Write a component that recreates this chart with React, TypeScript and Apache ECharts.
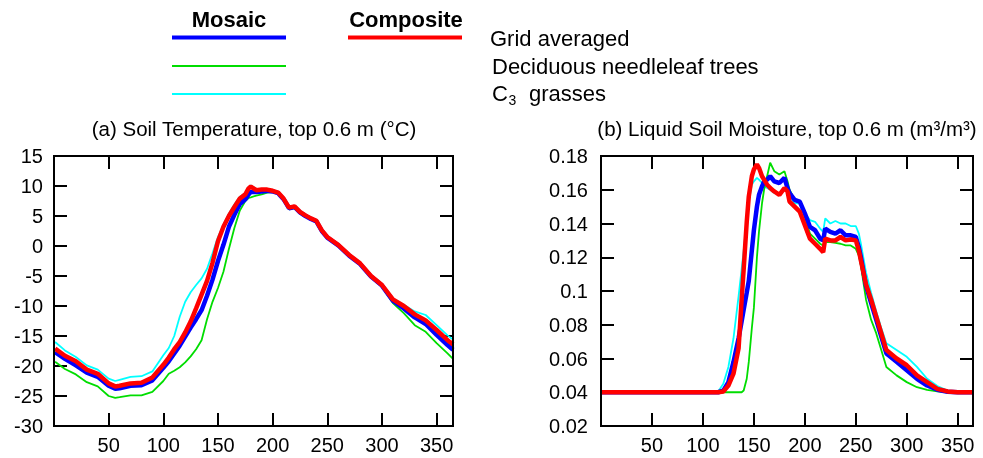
import React, { useEffect, useRef } from "react";
import * as echarts from "echarts";

// ---------- data ----------
const dayTicks = [50, 100, 150, 200, 250, 300, 350];
const tempTicks = [-30, -25, -20, -15, -10, -5, 0, 5, 10, 15];
const moistTicks = [0.02, 0.04, 0.06, 0.08, 0.1, 0.12, 0.14, 0.16, 0.18];

const tempDays = [1, 10, 20, 30, 40, 50, 56, 60, 70, 80, 90, 100, 105, 110, 115, 120, 125, 130, 135, 140, 145, 150, 155, 160, 165, 170, 175, 178, 180, 185, 190, 195, 200, 205, 210, 215, 220, 225, 230, 235, 240, 245, 250, 260, 270, 280, 290, 300, 310, 320, 330, 340, 350, 360, 365];
const tempCompositeGrid = [-17.1, -18.3, -19.2, -20.6, -21.3, -22.9, -23.4, -23.3, -22.9, -22.8, -21.9, -19.8, -18.6, -17.2, -16, -14.4, -12.6, -10.4, -8.1, -5.8, -2.8, 0.8, 3.2, 5, 6.5, 7.9, 8.6, 9.6, 9.9, 9.3, 9.4, 9.4, 9.2, 8.9, 7.9, 6.4, 6.6, 5.7, 5.1, 4.6, 4.2, 2.6, 1.5, 0.2, -1.5, -2.9, -5, -6.5, -8.9, -10, -11.4, -12.4, -14, -15.7, -16.4];
const tempMosaicGrid = [-17.7, -18.8, -19.9, -21.1, -21.8, -23.3, -23.8, -23.7, -23.3, -23.2, -22.4, -20.3, -19.2, -17.9, -16.6, -15.1, -13.6, -12.2, -10.7, -8.3, -5.6, -2.5, 0.2, 3.2, 5.2, 7, 7.8, 8.6, 9, 9, 9.1, 9.2, 9.1, 8.8, 7.8, 6.3, 6.5, 5.6, 5, 4.5, 4.1, 2.5, 1.4, 0.1, -1.6, -3, -5.1, -6.6, -9.1, -10.4, -11.9, -13, -14.8, -16.5, -17.3];
const tempDeciduous = [-19.3, -20.5, -21.4, -22.7, -23.4, -25, -25.3, -25.2, -24.9, -24.9, -24.3, -22.5, -21.3, -20.8, -20.2, -19.4, -18.4, -17.2, -15.7, -12.2, -9.3, -7, -4.3, -0.5, 3, 5.9, 7.5, 8, 8.1, 8.4, 8.6, 8.9, 9, 8.7, 7.7, 6.1, 6.3, 5.4, 4.9, 4.4, 4, 2.4, 1.3, 0, -1.7, -3.1, -5.2, -6.8, -9.5, -11.2, -13.2, -14.3, -16.2, -17.9, -18.8];
const tempC3Grasses = [-16, -17.4, -18.5, -19.9, -20.6, -22.1, -22.5, -22.3, -21.8, -21.7, -20.9, -18.2, -17, -15, -11.8, -9.3, -7.7, -6.5, -5.4, -3.8, -1.2, 1.5, 3.5, 5.4, 6.9, 8.2, 8.8, 9.8, 10.1, 9.5, 9.5, 9.5, 9.3, 9, 8, 6.5, 6.7, 5.8, 5.2, 4.7, 4.3, 2.7, 1.6, 0.3, -1.4, -2.8, -4.9, -6.4, -8.8, -9.8, -10.9, -11.5, -13.2, -14.9, -15.6];

const moistDays = [1, 40, 80, 110, 115, 120, 125, 130, 135, 138, 140, 143, 145, 148, 150, 153, 155, 158, 160, 163, 166, 170, 175, 180, 183, 185, 190, 195, 200, 205, 210, 215, 218, 220, 225, 230, 235, 240, 245, 250, 253, 255, 260, 265, 270, 275, 280, 290, 300, 310, 320, 330, 340, 350, 365];
const moistCompositeGrid = [0.04, 0.04, 0.04, 0.04, 0.04, 0.0405, 0.044, 0.051, 0.066, 0.095, 0.113, 0.141, 0.156, 0.168, 0.172, 0.175, 0.173, 0.168, 0.166, 0.163, 0.161, 0.159, 0.157, 0.161, 0.159, 0.153, 0.15, 0.147, 0.139, 0.131, 0.128, 0.125, 0.123, 0.131, 0.13, 0.13, 0.132, 0.13, 0.1305, 0.13, 0.124, 0.118, 0.104, 0.095, 0.085, 0.075, 0.065, 0.06, 0.056, 0.05, 0.046, 0.042, 0.0405, 0.04, 0.04];
const moistMosaicGrid = [0.04, 0.04, 0.04, 0.04, 0.04, 0.041, 0.046, 0.058, 0.072, 0.082, 0.089, 0.099, 0.106, 0.124, 0.136, 0.15, 0.157, 0.162, 0.165, 0.166, 0.168, 0.165, 0.164, 0.167, 0.161, 0.158, 0.154, 0.153, 0.146, 0.138, 0.136, 0.131, 0.13, 0.137, 0.135, 0.134, 0.136, 0.133, 0.133, 0.132, 0.126, 0.12, 0.103, 0.093, 0.083, 0.073, 0.063, 0.058, 0.053, 0.048, 0.044, 0.0415, 0.0403, 0.04, 0.04];
const moistDeciduous = [0.04, 0.04, 0.04, 0.04, 0.04, 0.04, 0.04, 0.04, 0.04, 0.04, 0.041, 0.048, 0.058, 0.078, 0.09, 0.12, 0.135, 0.152, 0.16, 0.168, 0.176, 0.171, 0.169, 0.171, 0.165, 0.16, 0.154, 0.152, 0.144, 0.134, 0.131, 0.128, 0.127, 0.129, 0.129, 0.1285, 0.128, 0.127, 0.127, 0.125, 0.121, 0.115, 0.095, 0.083, 0.075, 0.065, 0.055, 0.05, 0.046, 0.043, 0.0414, 0.0405, 0.04, 0.04, 0.04];
const moistC3Grasses = [0.04, 0.04, 0.04, 0.04, 0.0405, 0.045, 0.055, 0.072, 0.097, 0.113, 0.124, 0.142, 0.153, 0.163, 0.165, 0.167, 0.166, 0.164, 0.162, 0.161, 0.16, 0.158, 0.158, 0.16, 0.159, 0.156, 0.152, 0.152, 0.146, 0.142, 0.141, 0.137, 0.135, 0.143, 0.14, 0.1415, 0.14, 0.14, 0.1385, 0.1385, 0.134, 0.128, 0.111, 0.099, 0.088, 0.078, 0.069, 0.065, 0.061, 0.055, 0.048, 0.0437, 0.041, 0.04, 0.04];

// ---------- styles ----------
const FONT = '"Liberation Sans", Arial, Helvetica, sans-serif';
const BLUE = "#0000ff";
const RED = "#ff0000";
const GREEN = "#00dd00";
const CYAN = "#00ffff";

const pair = (xs: number[], ys: number[]) => xs.map((x, i) => [x, ys[i]]);

const noLine = () => ({ show: false, onZero: false });
const ticksIn = () => ({ show: true, inside: true, length: 13, lineStyle: { color: "#000", width: 2 } });
const dayFmt = (v: number) => (dayTicks.includes(v) ? String(v) : "");

const xAxisFor = (grid: number, pos: string) => ({
  type: "value",
  gridIndex: grid,
  position: pos,
  min: 0,
  max: 365,
  interval: 50,
  axisLine: noLine(),
  axisTick: ticksIn(),
  axisLabel:
    pos === "bottom"
      ? { fontSize: 20, color: "#000", fontFamily: FONT, margin: 9, formatter: dayFmt }
      : { show: false },
  splitLine: { show: false },
});

const yAxisFor = (grid: number, pos: string, ticks: number[], margin: number) => ({
  type: "value",
  gridIndex: grid,
  position: pos,
  min: ticks[0],
  max: ticks[ticks.length - 1],
  interval: Math.round((ticks[1] - ticks[0]) * 1000) / 1000,
  axisLine: noLine(),
  axisTick: ticksIn(),
  axisLabel:
    pos === "left" ? { fontSize: 20, color: "#000", fontFamily: FONT, margin } : { show: false },
  splitLine: { show: false },
});

const line = (name: string, axis: number, data: number[][], color: string, width: number) => ({
  name,
  type: "line",
  xAxisIndex: axis,
  yAxisIndex: axis,
  data,
  symbol: "none",
  showSymbol: false,
  lineStyle: { color, width },
  itemStyle: { color },
  clip: true,
  silent: true,
});

const txt = (text: string, x: number, y: number, opts: any = {}) => ({
  type: "text",
  x,
  y,
  silent: true,
  style: { text, fontSize: 22, fontFamily: FONT, fill: "#000", align: "left", verticalAlign: "middle", ...opts },
});
const hline = (x1: number, x2: number, y: number, color: string, w: number) => ({
  type: "line",
  silent: true,
  shape: { x1, y1: y, x2, y2: y },
  style: { stroke: color, lineWidth: w },
});

const GRID_A = { left: 54, top: 156, width: 399, height: 270 };
const GRID_B = { left: 601, top: 156, width: 372, height: 270 };

const frame = (g: { left: number; top: number; width: number; height: number }) => ({
  type: "rect",
  silent: true,
  z: 10,
  shape: { x: g.left, y: g.top, width: g.width, height: g.height },
  style: { fill: "none", stroke: "#000", lineWidth: 2 },
});

export default function App() {
  const ref = useRef<HTMLDivElement>(null);

  useEffect(() => {
    if (!ref.current) return;
    const chart = echarts.init(ref.current, null, { renderer: "svg" });

    const option: any = {
      animation: false,
      textStyle: { fontFamily: FONT },
      grid: [GRID_A, GRID_B],
      xAxis: [xAxisFor(0, "bottom"), xAxisFor(0, "top"), xAxisFor(1, "bottom"), xAxisFor(1, "top")],
      yAxis: [
        yAxisFor(0, "left", tempTicks, 11),
        yAxisFor(0, "right", tempTicks, 11),
        yAxisFor(1, "left", moistTicks, 13),
        yAxisFor(1, "right", moistTicks, 13),
      ],
      series: [
        line("C3 grasses (a)", 0, pair(tempDays, tempC3Grasses), CYAN, 1.8),
        line("Deciduous needleleaf trees (a)", 0, pair(tempDays, tempDeciduous), GREEN, 1.8),
        line("Mosaic grid averaged (a)", 0, pair(tempDays, tempMosaicGrid), BLUE, 4.5),
        line("Composite grid averaged (a)", 0, pair(tempDays, tempCompositeGrid), RED, 4.5),
        line("C3 grasses (b)", 2, pair(moistDays, moistC3Grasses), CYAN, 1.8),
        line("Deciduous needleleaf trees (b)", 2, pair(moistDays, moistDeciduous), GREEN, 1.8),
        line("Mosaic grid averaged (b)", 2, pair(moistDays, moistMosaicGrid), BLUE, 4.5),
        line("Composite grid averaged (b)", 2, pair(moistDays, moistCompositeGrid), RED, 4.5),
      ],
      graphic: [
        frame(GRID_A),
        frame(GRID_B),
        txt("Mosaic", 229, 19.5, { fontWeight: "bold", align: "center" }),
        txt("Composite", 406, 19.5, { fontWeight: "bold", align: "center" }),
        hline(172, 286, 37.5, BLUE, 4),
        hline(348, 462, 37.5, RED, 4),
        txt("Grid averaged", 490, 38),
        hline(172, 286, 66, GREEN, 1.8),
        txt("Deciduous needleleaf trees", 492, 66.5),
        hline(172, 286, 94, CYAN, 1.8),
        txt("C", 492, 93.5),
        txt("3", 508.5, 99.5, { fontSize: 14 }),
        txt("grasses", 529, 93.5),
        txt("(a) Soil Temperature, top 0.6 m (°C)", 254, 128, { fontSize: 20.5, align: "center" }),
        txt("(b) Liquid Soil Moisture, top 0.6 m (m³/m³)", 787, 128, { fontSize: 20.5, align: "center" }),
      ],
    };

    chart.setOption(option);
    return () => chart.dispose();
  }, []);

  return <div ref={ref} style={{ position: "fixed", left: 0, top: 0, width: 983, height: 458 }} />;
}
